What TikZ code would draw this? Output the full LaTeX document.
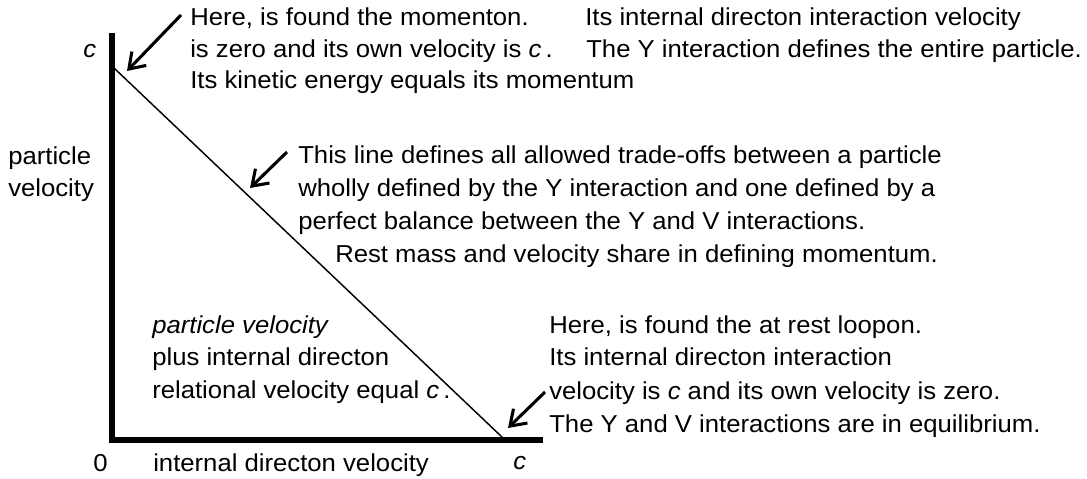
\documentclass[tikz,border=0pt]{standalone}
\usepackage{fontspec}
\setmainfont{Liberation Sans}[FakeStretch=1.05]
\usetikzlibrary{arrows.meta}
\begin{document}
\begin{tikzpicture}[x=0.75pt,y=-0.75pt,
  txt/.style={anchor=base west, inner sep=0pt, font=\fontsize{18.35}{22}\selectfont},
  pointer/.style={line width=2.3pt, -{Straight Barb[length=11pt,width=15pt]}},
  axis/.style={line width=4.8pt, miter limit=10},
  tradeoff/.style={line width=1.1pt}]
\useasboundingbox (0,0) rectangle (1087,478);
% axes
\coordinate (top) at (112,33);
\coordinate (origin) at (112,440);
\coordinate (xend) at (543,440);
\coordinate (diagA) at (114,68);
\coordinate (diagB) at (503,438);
\draw[axis] (top) -- (origin) -- (xend);
\draw[tradeoff] (diagA) -- (diagB);
% axis labels
\node[txt] (cy) at (83,58) {\textit{c}};
\node[txt] (pv1) at (8,164) {particle};
\node[txt] (pv2) at (8,196) {velocity};
\node[txt] (zero) at (93,471) {0};
\node[txt] (xl) at (153,471) {internal directon velocity};
\node[txt] (cx) at (513,469) {\textit{c}};
% top text
\node[txt] (t1) at (190,26) {Here, is found the momenton.};
\node[txt] (t2) at (190,58) {is zero and its own velocity is \textit{c}\,.};
\node[txt] (t3) at (190,89) {Its kinetic energy equals its momentum};
\node[txt] (t4) at (585,26) {Its internal directon interaction velocity};
\node[txt] (t5) at (586,58) {The Y interaction defines the entire particle.};
% middle text
\node[txt] (m1) at (298,163) {This line defines all allowed trade-offs between a particle};
\node[txt] (m2) at (298,196) {wholly defined by the Y interaction and one defined by a};
\node[txt] (m3) at (298,229) {perfect balance between the Y and V interactions.};
\node[txt] (m4) at (335,262) {Rest mass and velocity share in defining momentum.};
% bottom left text
\node[txt] (l1) at (152,333) {\textit{particle velocity}};
\node[txt] (l2) at (152,365) {plus internal directon};
\node[txt] (l3) at (152,398) {relational velocity equal \textit{c}\,.};
% bottom right text
\node[txt] (r1) at (549,333) {Here, is found the at rest loopon.};
\node[txt] (r2) at (549,365) {Its internal directon interaction};
\node[txt] (r3) at (549,399) {velocity is \textit{c} and its own velocity is zero.};
\node[txt] (r4) at (549,432) {The Y and V interactions are in equilibrium.};
% pointers
\coordinate (a1s) at (181,15);
\coordinate (a1e) at (127,71);
\coordinate (a2s) at (287,152);
\coordinate (a2e) at (250,188);
\coordinate (a3s) at (545,392);
\coordinate (a3e) at (508,428);
\draw[pointer] (a1s) -- (a1e);
\draw[pointer] (a2s) -- (a2e);
\draw[pointer] (a3s) -- (a3e);
\end{tikzpicture}
\end{document}
